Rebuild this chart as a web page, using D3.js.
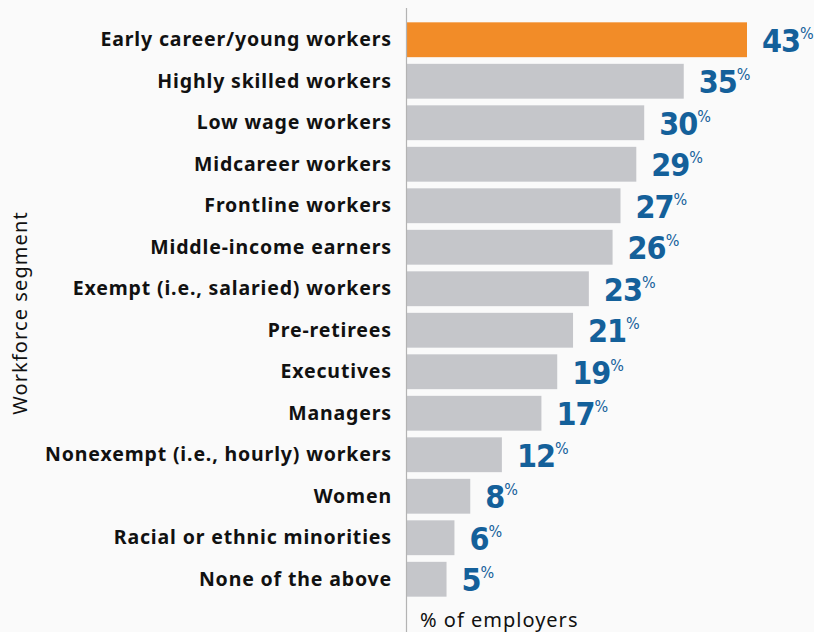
<!DOCTYPE html>
<html>
<head>
<meta charset="utf-8">
<script src="https://cdn.jsdelivr.net/npm/d3@7"></script>
<style>
  html, body { margin: 0; padding: 0; background: #fafafa; }
  svg { display: block; }
</style>
</head>
<body>
<svg id="chart" width="814" height="632"></svg>
<script>
// Workforce segments and share of employers targeting each
const segments = [
  "Early career/young workers",
  "Highly skilled workers",
  "Low wage workers",
  "Midcareer workers",
  "Frontline workers",
  "Middle-income earners",
  "Exempt (i.e., salaried) workers",
  "Pre-retirees",
  "Executives",
  "Managers",
  "Nonexempt (i.e., hourly) workers",
  "Women",
  "Racial or ethnic minorities",
  "None of the above"
];
const shares = [43, 35, 30, 29, 27, 26, 23, 21, 19, 17, 12, 8, 6, 5];
const highlighted = ["Early career/young workers"];
const xTitle = "% of employers";
const yTitle = "Workforce segment";

const data = segments.map((s, i) => ({ segment: s, value: shares[i] }));

const svg = d3.select("#chart");
const W = 814, H = 632;
const margin = { left: 407, right: 67, top: 22, bottom: 32 };

const x = d3.scaleLinear()
  .domain([0, d3.max(shares)])
  .range([margin.left, W - margin.right]);

const y = d3.scaleBand()
  .domain(segments)
  .range([19, 600])
  .paddingInner(0.16)
  .paddingOuter(0.08);

// bars
svg.append("g")
  .selectAll("rect")
  .data(data)
  .join("rect")
  .attr("x", x(0))
  .attr("y", d => y(d.segment))
  .attr("width", d => x(d.value) - x(0))
  .attr("height", y.bandwidth())
  .attr("fill", d => highlighted.includes(d.segment) ? "#f28c28" : "#c5c6ca");

// category axis on the left
const yAxis = d3.axisLeft(y).tickSize(0).tickPadding(15);
const gy = svg.append("g")
  .attr("transform", `translate(${x(0)},0)`)
  .call(yAxis);
gy.select(".domain").remove();
gy.selectAll("text")
  .attr("font-family", "'Noto Sans', sans-serif")
  .attr("font-weight", "700")
  .attr("font-size", "19.5px")
  .attr("letter-spacing", "0.85px")
  .attr("fill", "#111");

// baseline rule
svg.append("line")
  .attr("x1", x(0) - 0.5).attr("x2", x(0) - 0.5)
  .attr("y1", 8).attr("y2", H)
  .attr("stroke", "#b3b3b3")
  .attr("stroke-width", 1.2);

// value labels with superscript percent sign
const labels = svg.append("g")
  .selectAll("text")
  .data(data)
  .join("text")
  .attr("x", d => x(d.value) + 15)
  .attr("y", d => y(d.segment) + y.bandwidth() / 2 + 12)
  .attr("font-family", "'DejaVu Sans Condensed', 'DejaVu Sans', sans-serif")
  .attr("font-stretch", "condensed")
  .attr("font-weight", "700")
  .attr("fill", "#14609a");
labels.append("tspan")
  .attr("font-size", "32px")
  .attr("letter-spacing", "-1px")
  .text(d => d.value);
labels.append("tspan")
  .attr("font-size", "16px")
  .attr("font-weight", "400")
  .attr("dy", "-13")
  .text("%");

// axis titles
svg.append("text")
  .attr("x", 420)
  .attr("y", 627)
  .attr("font-family", "'Noto Sans', sans-serif")
  .attr("font-size", "20px")
  .attr("letter-spacing", "1px")
  .attr("fill", "#111")
  .text(xTitle);

svg.append("text")
  .attr("transform", `translate(27,${313}) rotate(-90)`)
  .attr("text-anchor", "middle")
  .attr("font-family", "'Noto Sans', sans-serif")
  .attr("font-size", "20px")
  .attr("letter-spacing", "1.1px")
  .attr("fill", "#111")
  .text(yTitle);
</script>
</body>
</html>
